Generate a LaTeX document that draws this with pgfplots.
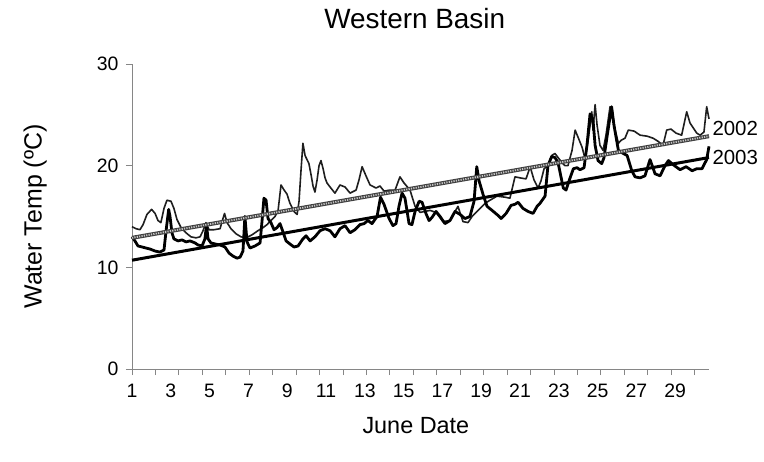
\documentclass[border=0pt]{standalone}
\usepackage{pgfplots}
\pgfplotsset{compat=1.18}
\usepackage{fontspec}
\setmainfont{Liberation Sans}
\definecolor{axgray}{HTML}{868686}
\definecolor{thin02}{HTML}{1E1E1E}
\begin{document}
\begin{tikzpicture}
\path[use as bounding box] (-132bp,-93bp) rectangle (632bp,369bp);
\begin{axis}[
  scale only axis, width=577bp, height=305bp,
  xmin=1, xmax=30.74, ymin=0, ymax=30,
  axis lines=left, axis line style={axgray, line width=0.8bp, -},
  xtick={1,3,...,29},
  every major x tick/.append style={draw=none},
  minor xtick={1.000,2.208,3.417,4.625,5.833,7.042,8.250,9.458,10.667,11.875,13.083,14.292,15.500,16.708,17.917,19.125,20.333,21.542,22.750,23.958,25.167,26.375,27.583,28.792,30.000},
  every minor x tick/.append style={axgray, line width=0.8bp},
  ytick={0,10,20,30},
  every major y tick/.append style={axgray, line width=0.8bp},
  tick align=outside,
  major tick length=6bp, minor tick length=6bp,
  /pgf/number format/assume math mode=true,
  tick label style={font=\fontsize{19.5}{22}\selectfont, black},
  xticklabel style={text height=14bp, text depth=0bp, anchor=north, yshift=-5bp},
  yticklabel style={xshift=-4bp},
  title={Western Basin},
  title style={font=\fontsize{28}{32}\selectfont, at={(axis description cs:0.49,1.131)}, anchor=center},
  xlabel={June Date},
  every axis x label/.style={at={(axis description cs:0.492,-0.184)}, anchor=center, font=\fontsize{23.5}{27}\selectfont},
  ylabel={Water Temp (ºC)},
  every axis y label/.style={at={(axis description cs:-0.168,0.5)}, rotate=90, anchor=center, font=\fontsize{25}{29}\selectfont},
  clip=false,
]
% 2002 observed (thin)
\addplot[thin02, line width=1.6bp, line join=round] coordinates {
(1.00,14.0)(1.21,13.8)(1.41,13.7)(1.57,14.2)(1.77,15.2)(2.01,15.7)(2.19,15.3)(2.34,14.6)(2.49,14.4)(2.65,15.8)(2.80,16.6)(3.01,16.5)(3.16,15.8)(3.32,14.7)(3.53,13.9)(3.78,13.4)(4.04,13.0)(4.30,12.9)(4.51,13.0)(4.66,13.6)(4.81,14.4)(4.97,13.7)(5.23,13.7)(5.54,13.8)(5.64,14.5)(5.77,15.3)(5.90,14.4)(6.10,13.8)(6.36,13.3)(6.62,13.0)(6.88,12.9)(7.19,13.2)(7.49,13.6)(7.75,13.9)(7.96,14.2)(8.16,14.6)(8.37,15.0)(8.53,15.6)(8.68,18.1)(8.84,17.6)(8.99,17.2)(9.14,16.3)(9.35,15.5)(9.51,15.2)(9.61,16.5)(9.71,19.5)(9.81,22.2)(9.92,21.0)(10.02,20.6)(10.12,20.2)(10.23,19.1)(10.33,18.0)(10.43,17.4)(10.54,18.6)(10.64,20.0)(10.74,20.5)(10.85,19.7)(10.95,18.8)(11.05,18.3)(11.21,17.9)(11.46,17.3)(11.72,18.1)(11.98,17.9)(12.24,17.3)(12.55,17.6)(12.70,18.6)(12.86,19.9)(13.06,19.0)(13.27,18.1)(13.58,17.8)(13.78,18.0)(13.99,17.5)(14.30,17.6)(14.56,17.6)(14.81,18.9)(15.02,18.3)(15.33,17.6)(15.59,16.0)(15.85,15.4)(16.10,15.5)(16.36,15.6)(16.67,15.4)(17.03,14.5)(17.39,14.6)(17.60,15.3)(17.80,16.0)(18.06,14.5)(18.32,14.4)(18.53,15.0)(18.84,15.6)(19.20,16.3)(19.45,16.6)(19.81,17.0)(20.23,16.9)(20.48,16.8)(20.74,18.9)(21.00,18.8)(21.31,18.7)(21.52,19.9)(21.72,18.6)(21.93,17.8)(22.08,18.5)(22.24,19.7)(22.44,20.0)(22.63,21.0)(22.80,21.2)(22.96,20.8)(23.16,20.3)(23.32,20.0)(23.47,20.0)(23.68,21.5)(23.84,23.5)(23.99,22.8)(24.20,21.8)(24.35,20.7)(24.51,22.5)(24.70,25.3)(24.76,23.5)(24.87,26.0)(24.97,24.0)(25.12,22.0)(25.28,21.5)(25.43,23.0)(25.64,25.8)(25.74,25.5)(25.90,23.5)(26.07,22.2)(26.21,22.5)(26.41,22.7)(26.58,23.5)(26.88,23.4)(27.19,23.0)(27.55,22.9)(27.86,22.7)(28.11,22.4)(28.37,22.0)(28.56,23.5)(28.78,23.6)(29.04,23.2)(29.33,23.0)(29.50,24.5)(29.59,25.3)(29.76,24.2)(30.11,23.2)(30.28,23.0)(30.48,23.3)(30.62,25.8)(30.74,24.6)
};
% 2003 observed (thick)
\addplot[black, line width=2.8bp, line join=round] coordinates {
(1.00,13.0)(1.15,12.6)(1.31,12.1)(1.52,12.0)(1.72,11.9)(1.93,11.8)(2.19,11.6)(2.44,11.5)(2.65,11.7)(2.75,13.5)(2.89,15.7)(2.96,15.0)(3.06,13.4)(3.16,12.8)(3.37,12.6)(3.58,12.7)(3.78,12.5)(3.99,12.6)(4.25,12.4)(4.40,12.2)(4.61,12.1)(4.76,12.8)(4.84,14.2)(4.92,12.8)(5.07,12.4)(5.28,12.3)(5.54,12.2)(5.79,12.0)(6.00,11.4)(6.21,11.1)(6.41,10.9)(6.57,11.0)(6.72,11.6)(6.82,15.0)(6.93,12.5)(7.08,11.9)(7.34,12.1)(7.60,12.4)(7.70,14.5)(7.80,16.8)(7.91,16.6)(8.01,14.8)(8.16,14.4)(8.32,13.7)(8.47,13.9)(8.63,14.3)(8.78,13.5)(8.94,12.6)(9.14,12.3)(9.35,12.0)(9.56,12.1)(9.81,12.8)(9.97,13.1)(10.18,12.6)(10.43,13.0)(10.69,13.6)(10.95,13.8)(11.21,13.6)(11.46,13.0)(11.72,13.8)(11.98,14.1)(12.24,13.4)(12.49,13.7)(12.75,14.2)(12.96,14.3)(13.16,14.6)(13.37,14.3)(13.63,15.0)(13.81,16.9)(13.99,16.2)(14.25,14.8)(14.45,14.1)(14.61,14.3)(14.76,16.0)(14.92,17.3)(15.07,16.8)(15.28,14.3)(15.43,14.2)(15.59,15.5)(15.80,16.5)(15.95,16.4)(16.15,15.3)(16.31,14.6)(16.46,14.9)(16.67,15.5)(16.88,15.0)(17.13,14.3)(17.39,14.6)(17.65,15.5)(17.91,15.2)(18.16,14.8)(18.42,15.0)(18.63,16.5)(18.77,19.9)(18.89,18.5)(19.09,17.2)(19.30,16.0)(19.56,15.6)(19.87,15.1)(20.02,14.8)(20.28,15.3)(20.54,16.1)(20.74,16.2)(20.90,16.4)(21.15,15.8)(21.41,15.5)(21.67,15.3)(21.88,16.0)(22.03,16.3)(22.29,17.0)(22.44,20.0)(22.63,20.9)(22.80,20.8)(22.96,20.3)(23.23,17.8)(23.37,17.6)(23.58,18.8)(23.75,19.7)(23.94,19.8)(24.09,19.6)(24.30,19.8)(24.45,22.0)(24.61,25.1)(24.76,24.5)(24.87,22.0)(25.02,20.5)(25.21,20.2)(25.33,20.8)(25.48,22.8)(25.72,25.8)(25.84,24.0)(26.07,21.5)(26.32,21.2)(26.52,21.0)(26.76,19.5)(26.93,18.9)(27.19,18.8)(27.44,19.0)(27.70,20.6)(27.96,19.2)(28.22,19.0)(28.47,20.0)(28.65,20.5)(28.89,20.1)(29.25,19.6)(29.56,19.9)(29.87,19.5)(30.11,19.7)(30.38,19.7)(30.62,20.6)(30.74,21.9)
};
% 2002 trend
\addplot[black!75, line width=4bp] coordinates {(1,12.9)(30.74,22.9)};
\addplot[gray!45, line width=1.8bp, dash pattern=on 1.2bp off 1.2bp] coordinates {(1,12.9)(30.74,22.9)};
% 2003 trend
\addplot[black, line width=3bp] coordinates {(1,10.7)(30.74,20.8)};
\node[anchor=west, font=\fontsize{20.5}{23}\selectfont] at (axis cs:30.74,23.7) {2002};
\node[anchor=west, font=\fontsize{20.5}{23}\selectfont] at (axis cs:30.74,20.8) {2003};
\end{axis}
\end{tikzpicture}
\end{document}
